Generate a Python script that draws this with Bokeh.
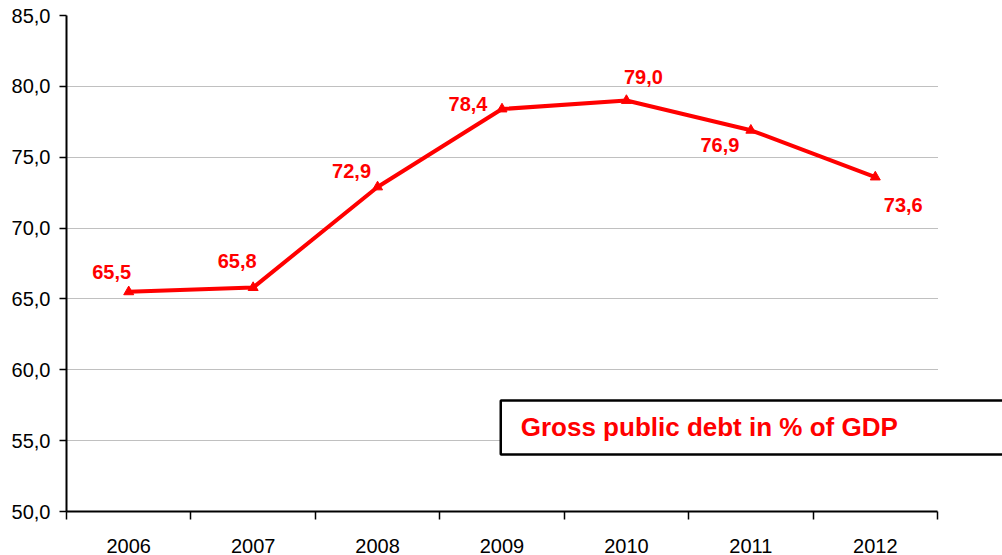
from bokeh.plotting import figure
from bokeh.models import (ColumnDataSource, Range1d, FixedTicker, LabelSet, Label,
                          CustomJSTickFormatter)
from bokeh.core.properties import value
from bokeh.embed import file_html
from bokeh.resources import INLINE

# ---- data ----
years = ["2006", "2007", "2008", "2009", "2010", "2011", "2012"]
debt = [65.5, 65.8, 72.9, 78.4, 79.0, 76.9, 73.6]
y_ticks = [50, 55, 60, 65, 70, 75, 80, 85]
title_text = "Gross public debt in % of GDP"

# label placement relative to each point (screen px)
label_dx = [-17, -16, -26, -34, 17, -31, 28]
label_dy = [20, 27, 16, 5, 24, -15, -28]

FONT = "Liberation Sans"
RED = "#ff0000"

n = len(years)
xs = [i + 0.5 for i in range(n)]
src = ColumnDataSource(dict(
    x=xs, y=debt,
    txt=[f"{v:.1f}".replace(".", ",") for v in debt],
    dx=label_dx, dy=label_dy,
))

# frame spans to the right canvas edge so the legend box can run off it;
# the axis and grid lines are bounded to the category area
x_end = n * (1002 - 66) / (937 - 66)
p = figure(width=1002, height=555, output_backend="svg", toolbar_location=None,
           x_range=Range1d(0, x_end), y_range=Range1d(y_ticks[0], y_ticks[-1]),
           min_border_left=66, min_border_right=0, min_border_top=15, min_border_bottom=44)
p.outline_line_color = None
p.background_fill_color = "white"
p.border_fill_color = "white"

xa = p.xaxis[0]
xa.bounds = (0, n)
xa.ticker = FixedTicker(ticks=xs, minor_ticks=list(range(n + 1)))
xa.major_label_overrides = {x: y for x, y in zip(xs, years)}
xa.major_tick_line_color = None
xa.major_tick_out = 0
xa.major_tick_in = 0
xa.minor_tick_line_color = "black"
xa.minor_tick_line_width = 1.5
xa.minor_tick_out = 8
xa.minor_tick_in = 0
xa.axis_line_width = 2
xa.axis_line_color = "black"
xa.major_label_standoff = 19
xa.major_label_text_font = FONT
xa.major_label_text_font_size = "20px"
xa.major_label_text_color = "black"

ya = p.yaxis[0]
ya.ticker = FixedTicker(ticks=y_ticks, minor_ticks=[])
ya.formatter = CustomJSTickFormatter(code="return tick.toFixed(1).replace('.', ',');")
ya.major_tick_out = 7
ya.major_tick_in = 0
ya.major_tick_line_width = 1.5
ya.axis_line_width = 2
ya.axis_line_color = "black"
ya.major_label_standoff = 9
ya.major_label_text_font = FONT
ya.major_label_text_font_size = "20px"
ya.major_label_text_color = "black"

p.xgrid.grid_line_color = None
p.ygrid.grid_line_color = "#808080"
p.ygrid.grid_line_dash = "1 1"
p.ygrid.grid_line_width = 1
p.ygrid.cross_bounds = (0, n)

p.line("x", "y", source=src, line_color=RED, line_width=4)
p.scatter("x", "y", source=src, marker="triangle", size=10,
          fill_color=RED, line_color=RED)

labels = LabelSet(x="x", y="y", text="txt", source=src, x_offset="dx", y_offset="dy",
                  text_align="center", text_baseline="middle",
                  text_font=value(FONT), text_font_size=value("20px"),
                  text_font_style="bold", text_color=RED)
p.add_layout(labels)

box = Label(x=3.49, y=57.83, text=title_text, anchor="top_left",
            text_font=FONT, text_font_size="26px", text_font_style="bold",
            text_color=RED, border_line_color="black", border_line_width=2.5,
            background_fill_color="white",
            padding=dict(left=20, right=150, top=11, bottom=13))
p.add_layout(box)

open("out.html", "w").write(file_html(p, INLINE))
